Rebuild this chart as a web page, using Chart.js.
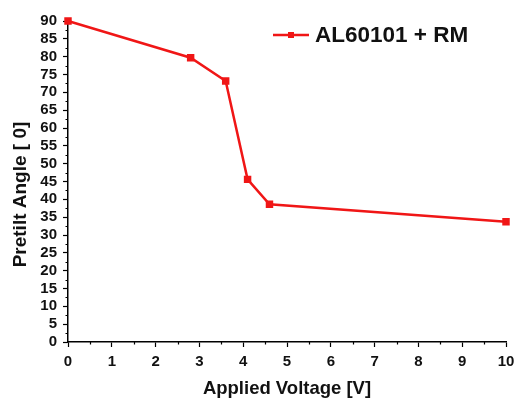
<!DOCTYPE html>
<html>
<head>
<meta charset="utf-8">
<script src="https://cdn.jsdelivr.net/npm/chart.js@4/dist/chart.umd.min.js"></script>
<style>
  html, body { margin: 0; padding: 0; background: #fff; }
  #wrap { width: 516px; height: 400px; }
</style>
</head>
<body>
<div id="wrap"><canvas id="myChart"></canvas></div>
<script>
// данные с картинки
const voltage = [0, 2.8, 3.6, 4.1, 4.6, 10];
const pretilt = [90, 79.7, 73.2, 45.6, 38.6, 33.7];
const seriesName = "AL60101 + RM";
const xTitle = "Applied Voltage [V]";
const yTitle = "Pretilt Angle [ 0]";

const red = "rgb(240,22,22)";
const fontFamily = "'Liberation Sans', Arial, sans-serif";

// малые засечки между основными
const minorTicks = {
  id: "minorTicks",
  afterDraw(chart) {
    const ctx = chart.ctx;
    const { x, y } = chart.scales;
    ctx.save();
    ctx.strokeStyle = "#000";
    ctx.lineWidth = 1.2;
    ctx.beginPath();
    for (let v = x.min + 0.5; v < x.max; v += 1) {
      const px = Math.round(x.getPixelForValue(v)) + 0.5;
      ctx.moveTo(px, x.top);
      ctx.lineTo(px, x.top + 2.5);
    }
    for (let v = y.min + 2.5; v < y.max; v += 5) {
      const py = Math.round(y.getPixelForValue(v)) + 0.5;
      ctx.moveTo(y.right, py);
      ctx.lineTo(y.right - 2.5, py);
    }
    ctx.stroke();
    ctx.restore();
  },
};

// подпись оси Y (чуть ниже центра, как в оригинале)
const yAxisTitle = {
  id: "yAxisTitle",
  afterDraw(chart) {
    const ctx = chart.ctx;
    const area = chart.chartArea;
    ctx.save();
    ctx.translate(21, (area.top + area.bottom) / 2 + 13);
    ctx.rotate(-Math.PI / 2);
    ctx.fillStyle = "#111";
    ctx.font = "bold 19px " + fontFamily;
    ctx.textAlign = "center";
    ctx.textBaseline = "middle";
    ctx.fillText(yTitle, 0, 0);
    ctx.restore();
  },
};

// легенда: линия с квадратным маркером
const lineLegend = {
  id: "lineLegend",
  afterDraw(chart) {
    const ctx = chart.ctx;
    const area = chart.chartArea;
    const x0 = area.left + 205;
    const yc = area.top + 14;
    ctx.save();
    ctx.strokeStyle = red;
    ctx.lineWidth = 2.5;
    ctx.beginPath();
    ctx.moveTo(x0, yc);
    ctx.lineTo(x0 + 36, yc);
    ctx.stroke();
    ctx.fillStyle = red;
    ctx.fillRect(x0 + 18 - 3, yc - 3, 6, 6);
    ctx.fillStyle = "#111";
    ctx.font = "bold 22.5px " + fontFamily;
    ctx.textBaseline = "middle";
    ctx.fillText(seriesName, x0 + 42, yc + 1);
    ctx.restore();
  },
};

new Chart(document.getElementById("myChart"), {
  type: "line",
  data: {
    datasets: [
      {
        label: seriesName,
        data: voltage.map((v, i) => ({ x: v, y: pretilt[i] })),
        borderColor: red,
        backgroundColor: red,
        borderWidth: 2.5,
        pointStyle: "rect",
        pointRadius: 3.5,
        pointHoverRadius: 3.5,
        tension: 0,
        clip: false,
      },
    ],
  },
  options: {
    responsive: true,
    maintainAspectRatio: false,
    animation: false,
    layout: { padding: { top: 21, right: 0, left: 0, bottom: 0 } },
    plugins: {
      legend: { display: false },
      tooltip: { enabled: false },
    },
    scales: {
      x: {
        type: "linear",
        min: 0,
        max: 10,
        afterFit: (scale) => {
          scale.height = 58;
          scale.paddingLeft = 0;
          scale.paddingRight = 10;
        },
        ticks: {
          stepSize: 1,
          autoSkip: false,
          maxRotation: 0,
          color: "#111",
          padding: 6,
          font: { family: fontFamily, size: 15, weight: "bold" },
        },
        grid: {
          display: true,
          drawOnChartArea: false,
          drawTicks: true,
          tickLength: 5,
          tickColor: "#000",
          tickWidth: 1.2,
        },
        border: { display: true, color: "#000", width: 1.5 },
        title: {
          display: true,
          text: xTitle,
          color: "#111",
          font: { family: fontFamily, size: 18.5, weight: "bold" },
          padding: { top: 0, bottom: 0 },
        },
      },
      y: {
        min: 0,
        max: 90,
        afterFit: (scale) => { scale.width = 68; },
        ticks: {
          stepSize: 5,
          autoSkip: false,
          color: "#111",
          padding: 6,
          font: { family: fontFamily, size: 15, weight: "bold" },
        },
        grid: {
          display: true,
          drawOnChartArea: false,
          drawTicks: true,
          tickLength: 5,
          tickColor: "#000",
          tickWidth: 1.2,
        },
        border: { display: true, color: "#000", width: 1.5 },
        title: { display: false, text: yTitle },
      },
    },
  },
  plugins: [minorTicks, yAxisTitle, lineLegend],
});
</script>
</body>
</html>
